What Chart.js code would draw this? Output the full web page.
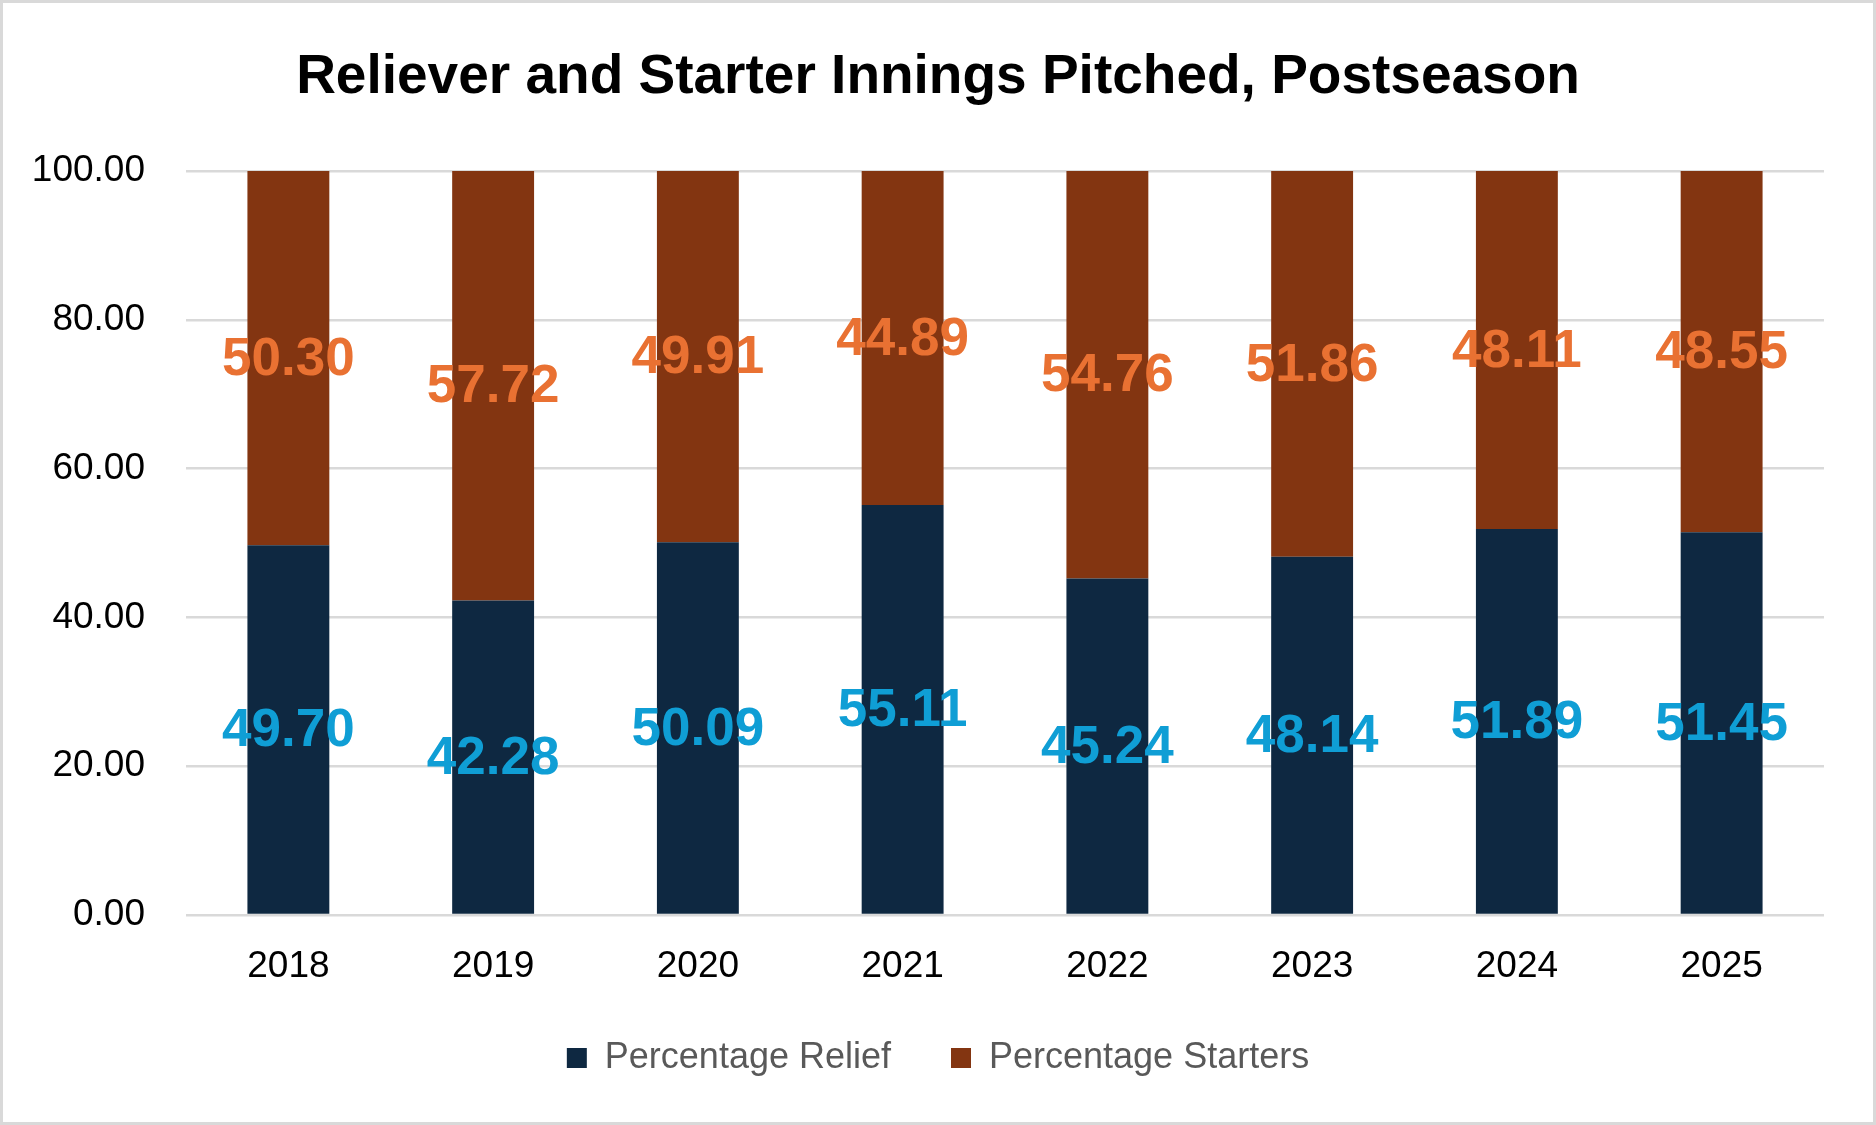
<!DOCTYPE html>
<html>
<head>
<meta charset="utf-8">
<script src="https://cdn.jsdelivr.net/npm/chart.js@4.4.1/dist/chart.umd.min.js"></script>
<style>
  html, body { margin: 0; padding: 0; background: #ffffff; }
  #wrap { width: 1876px; height: 1125px; position: relative; }
  canvas { display: block; }
</style>
</head>
<body>
<div id="wrap"><canvas id="c" width="1876" height="1125"></canvas></div>
<script>
// ---- Data ----
const categories = ["2018", "2019", "2020", "2021", "2022", "2023", "2024", "2025"];
const reliefPct   = [49.70, 42.28, 50.09, 55.11, 45.24, 48.14, 51.89, 51.45];
const starterPct  = [50.30, 57.72, 49.91, 44.89, 54.76, 51.86, 48.11, 48.55];
const seriesNames = ["Percentage Relief", "Percentage Starters"];
const titleText = "Reliever and Starter Innings Pitched, Postseason";

// ---- Styles ----
const reliefColor = "#0E2841";
const starterColor = "#833511";
const reliefLabelColor = "#0F9ED5";
const starterLabelColor = "#E97132";
const baseFont = "'Liberation Sans', Arial, sans-serif";

const borderPlugin = {
  id: "outerBorder",
  beforeDraw(chart) {
    const ctx = chart.ctx;
    ctx.save();
    ctx.fillStyle = "#ffffff";
    ctx.fillRect(0, 0, chart.width, chart.height);
    ctx.strokeStyle = "#D9D9D9";
    ctx.lineWidth = 3;
    ctx.strokeRect(1.5, 1.5, chart.width - 3, chart.height - 3);
    ctx.restore();
  }
};

const valueLabelPlugin = {
  id: "valueLabels",
  afterDatasetsDraw(chart) {
    const ctx = chart.ctx;
    ctx.save();
    ctx.font = "bold 53px " + baseFont;
    ctx.textAlign = "center";
    ctx.textBaseline = "middle";
    chart.data.datasets.forEach((ds, di) => {
      const meta = chart.getDatasetMeta(di);
      if (meta.hidden || !ds.labelColor) return;
      meta.data.forEach((el, i) => {
        const p = el.getProps(["x", "y", "base"], true);
        ctx.fillStyle = ds.labelColor;
        ctx.fillText(ds.data[i].toFixed(2), p.x, (p.y + p.base) / 2 + 2);
      });
    });
    ctx.restore();
  }
};

new Chart(document.getElementById("c"), {
  type: "bar",
  data: {
    labels: categories,
    datasets: [
      { label: seriesNames[0], data: reliefPct, backgroundColor: reliefColor, labelColor: reliefLabelColor,
        categoryPercentage: 1.0, barPercentage: 0.4 },
      { label: seriesNames[1], data: starterPct, backgroundColor: starterColor, labelColor: starterLabelColor,
        categoryPercentage: 1.0, barPercentage: 0.4 }
    ]
  },
  options: {
    responsive: false,
    animation: false,
    devicePixelRatio: 1,
    layout: { padding: { left: 0, right: 0, top: 0, bottom: 45 } },
    plugins: {
      title: {
        display: true,
        text: titleText,
        color: "#000000",
        font: { family: baseFont, size: 55, weight: "bold", lineHeight: 1.2 },
        padding: { top: 45, bottom: 60 }
      },
      legend: {
        display: true,
        position: "bottom",
        maxHeight: 100,
        labels: {
          color: "#595959",
          font: { family: baseFont, size: 36 },
          boxWidth: 20,
          boxHeight: 20,
          padding: 60
        }
      },
      tooltip: { enabled: false }
    },
    scales: {
      x: {
        stacked: true,
        grid: { display: false, drawTicks: false },
        border: { display: false },
        ticks: {
          color: "#000000",
          font: { family: baseFont, size: 37 },
          padding: 30
        },
        afterFit(scale) { scale.height = 65; }
      },
      y: {
        stacked: true,
        min: 0,
        max: 100,
        grid: { color: "#D9D9D9", lineWidth: 2.5, drawTicks: false },
        border: { display: false },
        ticks: {
          stepSize: 20,
          color: "#000000",
          font: { family: baseFont, size: 37 },
          padding: 41,
          callback: (v) => Number(v).toFixed(2)
        },
        afterFit(scale) { scale.width = 186; }
      },
      ySpacer: {
        position: "right",
        display: true,
        grid: { display: false, drawTicks: false },
        border: { display: false },
        ticks: { display: false },
        afterFit(scale) { scale.width = 52; }
      }
    }
  },
  plugins: [borderPlugin, valueLabelPlugin]
});
</script>
</body>
</html>
